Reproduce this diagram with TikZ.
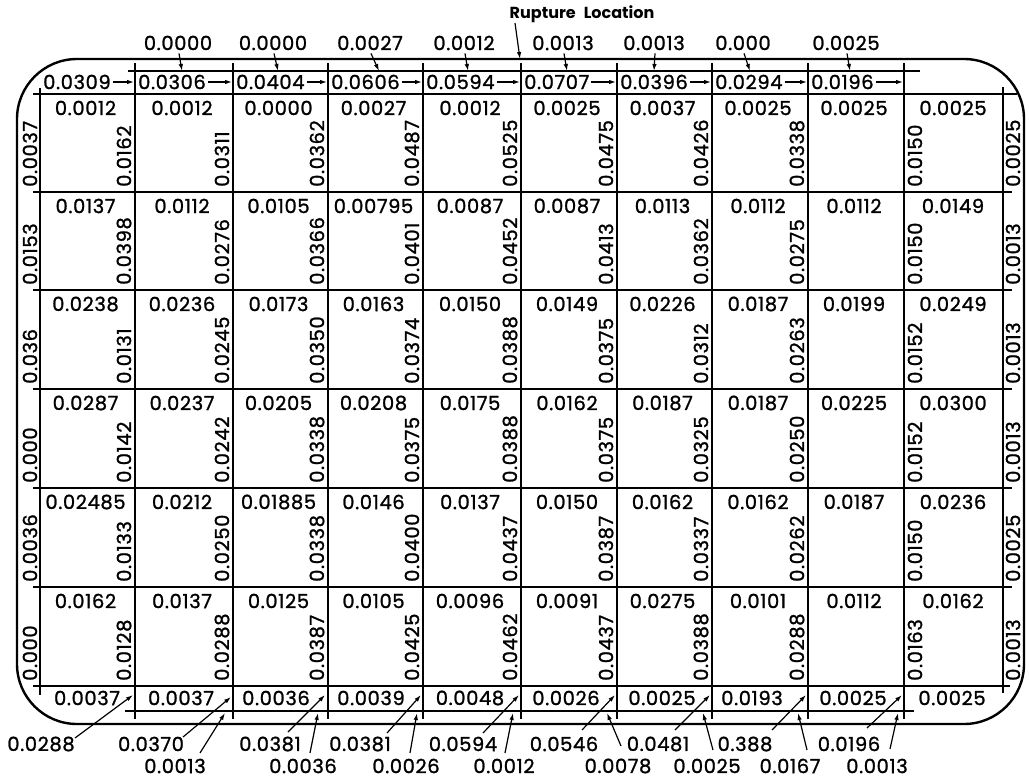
\documentclass[tikz,border=0pt]{standalone}
\usepackage{fontspec}
\setmainfont{Poppins}
\newfontfamily\numfont{Poppins}[FakeBold=1.2, LetterSpace=3]
\usetikzlibrary{arrows.meta}
\begin{document}
\begin{tikzpicture}[x=1pt,y=-1pt,
  gridline/.style={line width=1.8pt},
  outerline/.style={line width=2.4pt},
  num/.style={font=\numfont\fontsize{19.5}{22}\selectfont, inner sep=0pt},
  rotnum/.style={num, rotate=90, anchor=west},
  flownum/.style={num, anchor=west},
  leader/.style={line width=1.2pt, -{Latex[length=7pt,width=4.5pt]}},
]
\useasboundingbox (0,0) rectangle (1029,782);
\def\cx{{40,135,233,328,423,521,617,712,808,904,1003}}
\def\ry{{94,192,290,389,488,587,686}}

% frame and grid
\draw[outerline, rounded corners=60pt] (17,59) rectangle (1024,724);
\draw[gridline] (128,71) -- (920,71);
\draw[gridline] (33,94) -- (1017,94);
\foreach \y in {192,290,389,488,587} \draw[gridline] (33,\y) -- (1012,\y);
\draw[gridline] (33,686) -- (1010,686);
\draw[gridline] (125,711) -- (914,711);
\foreach \x in {135,233,328,423,521,617,712,808,904} \draw[gridline] (\x,63) -- (\x,719);
\draw[gridline] (40,88) -- (40,695);
\draw[gridline] (1003,87) -- (1003,693);

% rupture location
\node[font=\fontsize{16}{18}\selectfont\bfseries, inner sep=0pt] (rup) at (582,14) {Rupture\enspace Location};
\coordinate (rupA) at (515,23);
\coordinate (rupB) at (520,59);
\draw[leader] (rupA) -- (rupB);

% labels above the frame
\foreach \c/\t/\xx/\tip in {1/0.0000/178/182, 2/0.0000/273/278, 3/0.0027/370/379, 4/0.0012/464/468, 5/0.0013/563/567, 6/0.0013/654/654, 7/0.000/743/750, 8/0.0025/846/850} {
  \node[num] (a-\c) at (\xx,43) {\t};
  \coordinate (at-\c) at (\tip,71);
  \draw[leader] (a-\c.south) ++(1pt,-3pt) -- (at-\c);
}

% flow row
\foreach \c/\t in {0/0.0309,1/0.0306,2/0.0404,3/0.0606,4/0.0594,5/0.0707,6/0.0396,7/0.0294,8/0.0196} {
  \pgfmathsetmacro\xl{\cx[\c]}
  \pgfmathsetmacro\xr{\cx[\c+1]}
  \node[flownum] (f-\c) at (\xl+3,82) {\t};
  \coordinate (fe-\c) at (\xr-1,82);
  \draw[leader, shorten <=2pt] (f-\c.east) -- (fe-\c);
}

% cells, columns 0-7
\foreach \r/\c/\t/\v in {
 1/0/0.0012/0.0162, 1/1/0.0012/0.0311, 1/2/0.0000/0.0362, 1/3/0.0027/0.0487, 1/4/0.0012/0.0525, 1/5/0.0025/0.0475, 1/6/0.0037/0.0426, 1/7/0.0025/0.0338,
 2/0/0.0137/0.0398, 2/1/0.0112/0.0276, 2/2/0.0105/0.0366, 2/3/0.00795/0.0401, 2/4/0.0087/0.0452, 2/5/0.0087/0.0413, 2/6/0.0113/0.0362, 2/7/0.0112/0.0275,
 3/0/0.0238/0.0131, 3/1/0.0236/0.0245, 3/2/0.0173/0.0350, 3/3/0.0163/0.0374, 3/4/0.0150/0.0388, 3/5/0.0149/0.0375, 3/6/0.0226/0.0312, 3/7/0.0187/0.0263,
 4/0/0.0287/0.0142, 4/1/0.0237/0.0242, 4/2/0.0205/0.0338, 4/3/0.0208/0.0375, 4/4/0.0175/0.0388, 4/5/0.0162/0.0375, 4/6/0.0187/0.0325, 4/7/0.0187/0.0250,
 5/0/0.02485/0.0133, 5/1/0.0212/0.0250, 5/2/0.01885/0.0338, 5/3/0.0146/0.0400, 5/4/0.0137/0.0437, 5/5/0.0150/0.0387, 5/6/0.0162/0.0337, 5/7/0.0162/0.0262,
 6/0/0.0162/0.0128, 6/1/0.0137/0.0288, 6/2/0.0125/0.0387, 6/3/0.0105/0.0425, 6/4/0.0096/0.0462, 6/5/0.0091/0.0437, 6/6/0.0275/0.0388, 6/7/0.0101/0.0288} {
  \pgfmathsetmacro\xl{\cx[\c]}
  \pgfmathsetmacro\xr{\cx[\c+1]}
  \pgfmathsetmacro\yt{\ry[\r-1]}
  \pgfmathsetmacro\yb{\ry[\r]}
  \node[num] (h-\r-\c) at ({(\xl+\xr)/2-2},{\yt+14}) {\t};
  \node[rotnum] (v-\r-\c) at ({\xr-11},{\yb-5}) {\v};
}

% cells, columns 8-9, and the side labels
\foreach \r/\a/\b/\w/\lft/\rgt in {
 1/0.0025/0.0025/0.0150/0.0037/0.0025,
 2/0.0112/0.0149/0.0150/0.0153/0.0013,
 3/0.0199/0.0249/0.0152/0.036/0.0013,
 4/0.0225/0.0300/0.0152/0.000/0.0013,
 5/0.0187/0.0236/0.0150/0.0036/0.0025,
 6/0.0112/0.0162/0.0163/0.000/0.0013} {
  \pgfmathsetmacro\yt{\ry[\r-1]}
  \pgfmathsetmacro\yb{\ry[\r]}
  \node[num] (h-\r-8) at (854,{\yt+14}) {\a};
  \node[num] (h-\r-9) at (953,{\yt+14}) {\b};
  \node[rotnum] (v-\r-9) at (915,{\yb-5}) {\w};
  \node[rotnum] (l-\r) at (30,{\yb-5}) {\lft};
  \node[rotnum] (r-\r) at (1013,{\yb-5}) {\rgt};
}

% bottom strip values
\foreach \i/\xx/\t in {0/87/0.0037,1/181/0.0037,2/276/0.0036,3/371/0.0039,4/470/0.0048,5/566/0.0026,6/662/0.0025,7/752/0.0193,8/853/0.0025,9/952/0.0025} {
  \node[num] (s-\i) at (\xx,698) {\t};
}

% bottom leaders, upper line of labels
\foreach \i/\xx/\t/\sx/\sy/\ex/\ey in {
 1/41/0.0288/75/738/133/695,
 2/151/0.0370/183/737/231/697,
 3/270/0.0381/288/732/325/695,
 4/360/0.0381/387/733/421/695,
 5/463/0.0594/483/733/519/695,
 6/564/0.0546/582/730/615/695,
 7/658/0.0481/675/730/710/695,
 8/745/0.388/772/730/806/695,
 9/849/0.0196/867/728/902/695} {
  \node[num] (ba-\i) at (\xx,744) {\t};
  \coordinate (bas-\i) at (\sx,\sy);
  \coordinate (bae-\i) at (\ex,\ey);
  \draw[leader] (bas-\i) -- (bae-\i);
}

% bottom leaders, lower line of labels
\foreach \i/\xx/\t/\sx/\sy/\ex/\ey in {
 1/175/0.0013/200/753/225/713,
 2/303/0.0036/310/753/318/713,
 3/406/0.0026/410/753/417/713,
 4/504/0.0012/505/753/513/713,
 5/618/0.0078/621/746/607/713,
 6/707/0.0025/713/750/703/713,
 7/790/0.0167/807/750/798/713,
 8/877/0.0013/890/749/898/713} {
  \node[num] (bb-\i) at (\xx,766) {\t};
  \coordinate (bbs-\i) at (\sx,\sy);
  \coordinate (bbe-\i) at (\ex,\ey);
  \draw[leader] (bbs-\i) -- (bbe-\i);
}
\end{tikzpicture}
\end{document}
